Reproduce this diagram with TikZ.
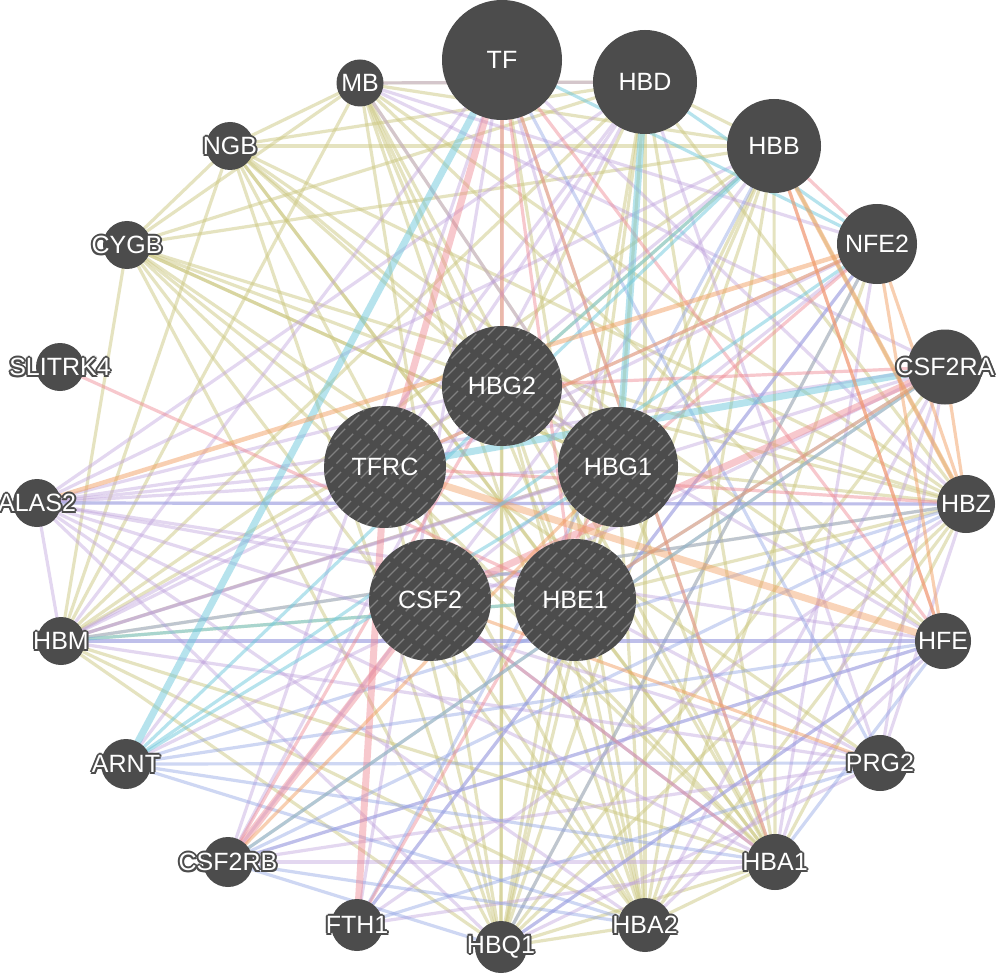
\documentclass[tikz,border=0pt]{standalone}
\usepackage{fontspec}
\setmainfont{Liberation Sans}
\usetikzlibrary{backgrounds}
\definecolor{nodegray}{RGB}{76,76,76}
\definecolor{hatchgray}{RGB}{128,128,128}
\definecolor{colv}{RGB}{205,200,130}
\definecolor{cpur}{RGB}{190,160,220}
\definecolor{cblu}{RGB}{140,160,228}
\definecolor{cpnk}{RGB}{238,135,145}
\definecolor{ccyn}{RGB}{110,200,220}
\definecolor{corg}{RGB}{242,160,100}
\newcommand\hcp[3]{\rlap{\hspace*{#1}\raisebox{#2}{\color{nodegray}#3}}}
\newcommand\halo[1]{\makebox[0pt][c]{\hcp{2pt}{0pt}{#1}\hcp{-2pt}{0pt}{#1}\hcp{0pt}{2pt}{#1}\hcp{0pt}{-2pt}{#1}\hcp{1.4pt}{1.4pt}{#1}\hcp{-1.4pt}{1.4pt}{#1}\hcp{1.4pt}{-1.4pt}{#1}\hcp{-1.4pt}{-1.4pt}{#1}#1}}
\tikzset{
  gnode/.style={circle, fill=nodegray, text=white, inner sep=0pt, font=\fontsize{25}{25}\selectfont},
  hatched/.style={path picture={
    \foreach \k [count=\n] in {-130,-117,...,130}{
      \pgfmathsetmacro\ph{mod(\n*7,20)}
      \draw[hatchgray, line width=1.3pt, dash pattern=on 15pt off 5pt, dash phase=\ph pt]
        ([shift={(\k-75,75)}]path picture bounding box.center) -- ++(150,-150);}}},
  e/.style={line width=3.2pt, line cap=round},
  olv/.style={e, draw=colv, opacity=0.5},
  pur/.style={e, draw=cpur, opacity=0.42},
  blu/.style={e, draw=cblu, opacity=0.42},
  pnk/.style={e, draw=cpnk, opacity=0.45},
  cyn/.style={e, draw=ccyn, opacity=0.5},
  org/.style={e, draw=corg, opacity=0.5},
  wide/.style={line width=7pt},
  mid/.style={line width=4.5pt}
}
\begin{document}
\begin{tikzpicture}[x=1pt,y=-1pt]
\useasboundingbox (0,0) rectangle (1000,976);
% outer ring
\node[gnode, minimum size=120pt] (TF) at (502,60) {TF};
\node[gnode, minimum size=104pt] (HBD) at (645,82) {HBD};
\node[gnode, minimum size=94pt] (HBB) at (774,146) {HBB};
\node[gnode, minimum size=80pt] (NFE2) at (877,244) {NFE2};
\node[gnode, minimum size=75pt] (CSF2RA) at (945,367) {\halo{CSF2RA}};
\node[gnode, minimum size=58pt] (HBZ) at (966,504) {\halo{HBZ}};
\node[gnode, minimum size=56pt] (HFE) at (943,641) {\halo{HFE}};
\node[gnode, minimum size=56pt] (PRG2) at (880,763) {\halo{PRG2}};
\node[gnode, minimum size=56pt] (HBA1) at (775,862) {\halo{HBA1}};
\node[gnode, minimum size=54pt] (HBA2) at (645,925) {\halo{HBA2}};
\node[gnode, minimum size=52pt] (HBQ1) at (501,947) {\halo{HBQ1}};
\node[gnode, minimum size=52pt] (FTH1) at (357,925) {\halo{FTH1}};
\node[gnode, minimum size=50pt] (CSF2RB) at (228,862) {\halo{CSF2RB}};
\node[gnode, minimum size=50pt] (ARNT) at (126,764) {\halo{ARNT}};
\node[gnode, minimum size=48pt] (HBM) at (61,641) {\halo{HBM}};
\node[gnode, minimum size=48pt] (ALAS2) at (37,503) {\halo{ALAS2}};
\node[gnode, minimum size=48pt] (SLITRK4) at (60,367) {\halo{SLITRK4}};
\node[gnode, minimum size=48pt] (CYGB) at (127,245) {\halo{CYGB}};
\node[gnode, minimum size=48pt] (NGB) at (230,146) {\halo{NGB}};
\node[gnode, minimum size=47pt] (MB) at (360,83) {\halo{MB}};
% query genes
\node[gnode, hatched, minimum size=120pt] (HBG2) at (502,386) {HBG2};
\node[gnode, hatched, minimum size=122pt] (TFRC) at (385,467) {TFRC};
\node[gnode, hatched, minimum size=120pt] (HBG1) at (618,467) {HBG1};
\node[gnode, hatched, minimum size=122pt] (CSF2) at (430,600) {CSF2};
\node[gnode, hatched, minimum size=122pt] (HBE1) at (575,600) {HBE1};
\begin{scope}[on background layer]
\fill[white] (0,0) rectangle (1000,976);
% shared protein domains
\foreach \a [count=\i] in {MB,NGB,CYGB,HBA1,HBA2,HBB,HBD,HBE1,HBG1,HBG2,HBM,HBQ1,HBZ}{
  \foreach \b [count=\j] in {MB,NGB,CYGB,HBA1,HBA2,HBB,HBD,HBE1,HBG1,HBG2,HBM,HBQ1,HBZ}{
    \ifnum\j>\i \draw[olv] (\a) -- (\b); \fi}}
\foreach \a/\b in {TF/HBQ1,TF/HBA2,TF/HBA1,HBQ1/TFRC,HBA2/CSF2,HBQ1/NFE2,HBA1/TFRC,
  HBQ1/CSF2RA,HBA2/NFE2,CYGB/HBG1,NGB/HFE,MB/HFE,CYGB/PRG2}
  \draw[olv] (\a) -- (\b);
% co-expression
\foreach \a/\b in {ALAS2/HBA1,ALAS2/HBA2,ALAS2/HBB,ALAS2/HBD,ALAS2/HBM,ALAS2/HBQ1,ALAS2/HBZ,
  ALAS2/HBE1,ALAS2/HBG1,ALAS2/HBG2,ALAS2/CSF2RA,ALAS2/HFE,ALAS2/PRG2,ALAS2/TFRC,
  HBM/HFE,HBM/PRG2,HBM/CSF2RA,HBM/NFE2,HBM/TF,HBM/TFRC,HBM/HBG1,
  MB/HBD,MB/NFE2,MB/CSF2RA,MB/HBG1,HBD/PRG2,HBZ/PRG2,HBD/CSF2RB,
  HBB/CSF2RB,NFE2/HBA1,NFE2/FTH1,NFE2/TFRC,NFE2/CSF2,
  CSF2RB/HBA1,CSF2RB/PRG2,CSF2RB/TF,FTH1/HBA1,FTH1/HBZ,FTH1/TF,HFE/HBA2,HFE/HBQ1,HFE/CSF2RB,
  PRG2/HBQ1,PRG2/CSF2RA,CSF2RA/HBA1,TF/HBZ,ARNT/HBD,ARNT/CSF2RA,PRG2/HBE1,HFE/HBG2,
  CSF2RA/HBA2,TF/HBG1,HBB/TFRC,HBD/TFRC}
  \draw[pur] (\a) -- (\b);
% co-localization
\foreach \a/\b in {CSF2RB/HBQ1,CSF2RB/HBA2,CSF2RB/HBZ,CSF2RB/HFE,ARNT/HBA1,ARNT/PRG2,ARNT/HBA2,
  HBQ1/NFE2,HBZ/ALAS2,HFE/HBA1,HFE/HBM,CSF2/HBA1,FTH1/PRG2,FTH1/NFE2,ARNT/HBZ,ARNT/HFE,
  TF/PRG2,HBM/HBZ,HBE1/CSF2RA,FTH1/HBB,HBQ1/HFE}
  \draw[blu] (\a) -- (\b);
% physical interactions
\foreach \a/\b in {CSF2RA/CSF2RB,SLITRK4/HBE1,HFE/HBB,HFE/TF,TF/HBE1,CSF2RB/HBG2,
  HBB/NFE2,TFRC/HBZ,FTH1/HBG1,NFE2/HBG1,TF/HBG2,CSF2RA/HBG2,HBA1/CSF2,TF/HBA1}
  \draw[pnk] (\a) -- (\b);
\foreach \a/\b in {TF/TFRC,FTH1/TFRC,CSF2/CSF2RB,CSF2/CSF2RA}
  \draw[pnk, wide] (\a) -- (\b);
\draw[pnk, wide, draw=corg] (HFE) -- (TFRC);
% pathway
\foreach \a/\b in {HBD/NFE2,TF/NFE2,ARNT/HBB,ARNT/HBG1,ARNT/NFE2,CSF2RB/CSF2RA,HBM/HBE1,HBB/HBG2}
  \draw[cyn] (\a) -- (\b);
\foreach \a/\b in {ARNT/TF,HBD/HBG1,CSF2RA/TFRC}
  \draw[cyn, wide] (\a) -- (\b);
% predicted
\foreach \a/\b in {CSF2/PRG2,NFE2/HFE,TFRC/NFE2,CSF2RA/HBE1,NFE2/HBZ,CSF2RB/HBG1,HBB/HFE,CSF2RA/HBZ}
  \draw[org] (\a) -- (\b);
\foreach \a/\b in {ALAS2/NFE2,HBB/HBZ}
  \draw[org, mid] (\a) -- (\b);
\end{scope}
\end{tikzpicture}
\end{document}
